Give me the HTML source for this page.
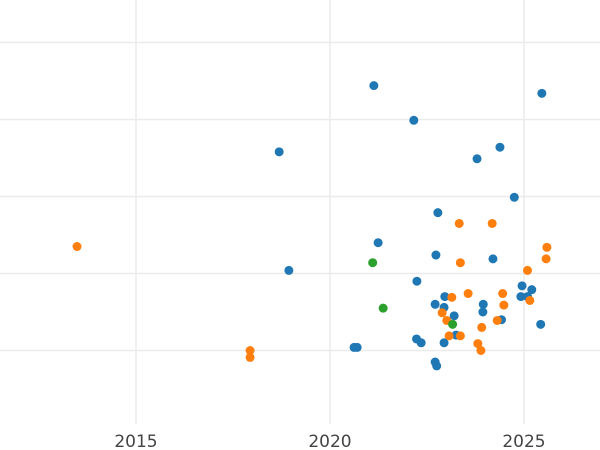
<!DOCTYPE html>
<html><head><meta charset="utf-8"><style>
html,body{margin:0;padding:0;background:#fff}
svg{display:block}
</style></head><body>
<svg id="chart" width="600" height="450" xmlns="http://www.w3.org/2000/svg">
<g id="grid"></g>
<g id="xticks"></g>
<g id="points"></g>
</svg>
<script>
const xTicks = [2015, 2020, 2025];
const yGrid = [1, 2, 3, 4, 5];
const blueX = [2024.75,2022.78,2021.24,2022.73,2024.20,2022.24,2024.95,2025.20,2022.96,2024.92,2025.09,2022.71,2022.94,2023.95,2023.94,2023.20,2024.42,2025.43,2023.25,2022.23,2022.35,2022.94,2020.70,2022.71,2022.75,2021.13,2025.46,2022.16,2018.69,2024.38,2023.79,2018.94,2020.62];
const blueY = [2.99,2.79,2.40,2.24,2.19,1.90,1.84,1.79,1.70,1.70,1.70,1.60,1.56,1.60,1.50,1.45,1.40,1.34,1.20,1.15,1.10,1.10,1.04,0.85,0.80,4.44,4.34,3.99,3.58,3.64,3.49,2.04,1.04];
const orangeX = [2023.33,2024.18,2025.59,2025.57,2023.36,2025.09,2023.56,2024.45,2023.14,2024.48,2025.15,2022.89,2023.01,2024.31,2023.91,2023.07,2023.36,2023.81,2023.89,2013.48,2017.94,2017.94];
const orangeY = [2.65,2.65,2.34,2.19,2.14,2.04,1.74,1.74,1.69,1.59,1.65,1.49,1.39,1.39,1.30,1.19,1.19,1.09,1.00,2.35,1.00,0.91];
const greenX = [2021.10,2021.37,2023.16];
const greenY = [2.14,1.55,1.34];

const NS = 'http://www.w3.org/2000/svg';
function xs(v){ return 330 + (v - 2020) * 38.8; }
function ys(v){ return 427.5 - v * 77; }

const grid = document.getElementById('grid');
yGrid.forEach(v => {
  const l = document.createElementNS(NS,'line');
  
  
  l.setAttribute('x1',0); l.setAttribute('x2',600);
  l.setAttribute('y1',ys(v)); l.setAttribute('y2',ys(v));
  l.setAttribute('stroke','#ebebeb'); l.setAttribute('stroke-width','1.5');
  grid.appendChild(l);
});
const xt = document.getElementById('xticks');
xTicks.forEach(v => {
  const l = document.createElementNS(NS,'line');
  
  
  l.setAttribute('x1',xs(v)); l.setAttribute('x2',xs(v));
  l.setAttribute('y1',0); l.setAttribute('y2',424);
  l.setAttribute('stroke','#ebebeb'); l.setAttribute('stroke-width','1.5');
  grid.appendChild(l);
  const t = document.createElementNS(NS,'text');
  
  
  t.setAttribute('x',xs(v)); t.setAttribute('y',447);
  t.setAttribute('text-anchor','middle');
  t.setAttribute('font-family','DejaVu Sans, sans-serif');
  t.setAttribute('font-size','17');
  t.setAttribute('fill','#444');
  t.textContent = v;
  xt.appendChild(t);
});
const pts = document.getElementById('points');
function series(X, Y, color, name){
  X.forEach((x,i) => {
    const c = document.createElementNS(NS,'circle');
    
    
    c.setAttribute('cx', xs(x)); c.setAttribute('cy', ys(Y[i]));
    c.setAttribute('r', 4.5); c.setAttribute('fill', color);
    pts.appendChild(c);
  });
}
series(blueX, blueY, '#1f77b4', 'blue-point');
series(orangeX, orangeY, '#ff7f0e', 'orange-point');
series(greenX, greenY, '#2ca02c', 'green-point');
</script>
</body></html>
